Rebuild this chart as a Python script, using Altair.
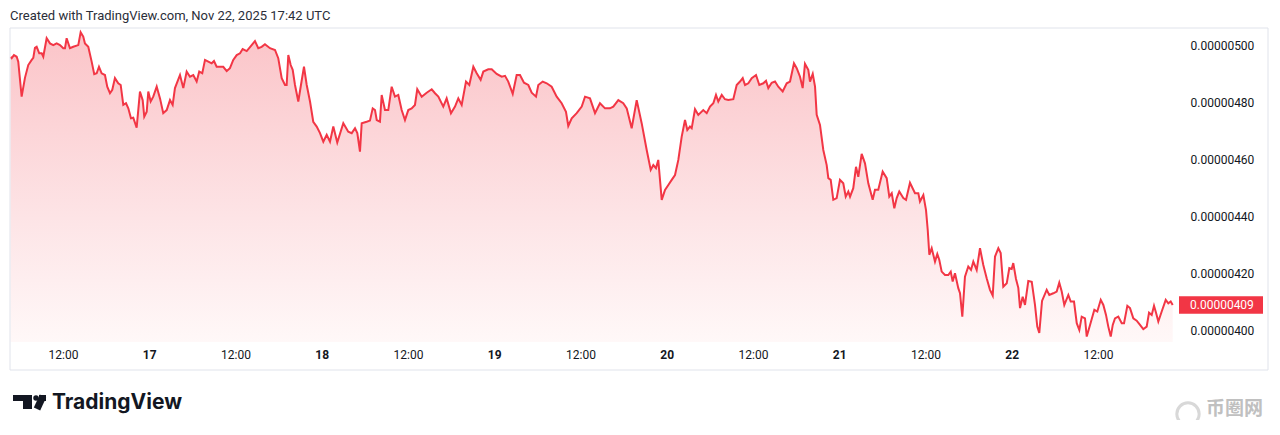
import altair as alt
import pandas as pd

# time in hours since Nov 16 00:00, price in units of 1e-9
hours = [4.70, 4.86, 5.18, 5.56, 5.78, 6.25, 6.71, 7.17, 7.65, 7.87, 8.10, 8.34, 8.70, 9.04, 9.26, 9.73,
         10.19, 10.65, 11.12, 11.58, 12.04, 12.28, 12.51, 12.97, 13.43, 14.13, 14.46, 14.82, 15.06, 15.52,
         15.99, 16.35, 16.69, 17.01, 17.38, 17.84, 18.16, 18.54, 18.86, 19.23, 19.69, 20.03, 20.39, 20.77,
         21.09, 21.46, 21.78, 22.25, 22.71, 23.09, 23.31, 23.65, 23.87, 24.20, 24.56, 25.04, 25.50, 25.95,
         26.43, 26.89, 27.26, 27.58, 28.28, 28.74, 29.21, 29.67, 30.13, 30.60, 30.96, 31.38, 31.76, 32.22,
         32.69, 33.01, 33.38, 33.84, 34.30, 34.78, 35.23, 35.69, 36.17, 36.63, 37.00, 37.56, 38.25, 38.71,
         39.17, 39.64, 40.10, 40.80, 41.50, 41.95, 42.43, 42.89, 43.12, 43.35, 43.68, 43.96, 44.28, 44.74,
         45.11, 45.53, 45.91, 46.37, 46.82, 47.30, 47.76, 48.22, 48.69, 49.15, 49.61, 50.16, 51.00, 51.69,
         52.17, 52.63, 52.95, 53.32, 53.56, 54.25, 54.71, 55.09, 55.41, 55.65, 56.10, 56.34, 56.80, 57.26,
         57.73, 58.19, 58.65, 59.12, 59.58, 60.04, 60.51, 60.97, 61.29, 61.91, 62.60, 63.30, 63.76, 64.22,
         64.91, 65.38, 65.98, 66.54, 67.00, 67.47, 68.07, 68.53, 69.09, 69.56, 70.11, 70.48, 71.17, 71.65,
         72.34, 73.04, 73.50, 73.95, 74.57, 75.12, 75.58, 76.14, 76.74, 77.21, 77.81, 78.13, 78.74, 79.30,
         79.99, 80.69, 81.38, 81.98, 82.30, 82.78, 83.47, 84.17, 84.63, 85.32, 86.02, 86.71, 87.41, 88.10,
         88.56, 89.26, 89.95, 90.43, 91.12, 91.82, 92.51, 93.21, 93.77, 94.13, 94.50, 94.82, 95.30, 95.76,
         96.22, 96.69, 97.15, 97.61, 98.08, 98.54, 98.86, 99.23, 99.47, 99.93, 100.39, 101.08, 101.56,
         102.02, 102.48, 102.85, 103.17, 103.65, 104.10, 104.56, 105.26, 105.73, 106.19, 106.57, 106.89,
         107.35, 107.82, 108.42, 108.88, 109.43, 109.81, 110.13, 110.60, 111.06, 111.52, 112.13, 112.69,
         113.15, 113.70, 114.08, 114.54, 114.91, 115.23, 115.69, 115.93, 116.31, 116.63, 116.86, 117.32,
         117.78, 118.25, 118.48, 118.81, 119.17, 119.64, 120.10, 120.56, 120.90, 121.26, 121.50, 121.95,
         122.33, 122.65, 123.12, 123.58, 124.04, 124.65, 124.97, 125.43, 126.04, 126.60, 126.96, 127.30,
         127.66, 127.99, 128.35, 128.91, 129.29, 129.84, 130.54, 131.00, 131.23, 131.70, 132.07, 132.31,
         132.53, 132.86, 133.32, 133.64, 133.92, 134.25, 134.71, 135.17, 135.51, 135.78, 136.10, 136.56,
         136.80, 137.12, 137.49, 137.95, 138.33, 138.65, 139.12, 139.58, 140.04, 140.51, 140.97, 141.35,
         141.67, 142.13, 142.46, 142.82, 143.30, 143.66, 143.99, 144.21, 144.59, 144.91, 145.15, 145.52,
         145.84, 146.30, 146.78, 147.23, 147.55, 147.83, 148.21, 148.86, 149.22, 149.78, 150.25, 150.61,
         150.95, 151.31, 151.87, 152.20, 152.66, 153.04, 153.40, 153.73, 154.19, 154.43, 154.89, 155.49,
         155.90, 156.38, 156.74, 157.11, 157.43, 157.77, 158.05, 158.36, 158.82, 159.30, 159.62, 160.08,
         160.45, 160.91, 161.38, 161.84, 162.30, 162.77, 163.10, 163.47, 163.79, 164.07, 164.39, 164.86,
         165.42, 165.78, 166.11, 166.39]

price = [496.0, 495.6, 496.7, 496.1, 494.4, 482.1, 488.7, 493.2, 495.0, 495.7, 499.2, 499.6, 497.3, 497.3, 496.1, 502.6,
         500.8, 500.2, 500.8, 500.2, 499.1, 499.1, 502.6, 499.1, 499.6, 500.2, 504.7, 503.2, 500.8, 499.6,
         494.4, 490.0, 490.3, 492.6, 490.3, 489.7, 485.6, 483.3, 484.5, 488.6, 486.8, 486.2, 479.2, 479.8,
         478.0, 474.5, 474.7, 471.2, 483.9, 480.9, 475.1, 476.8, 483.9, 480.4, 482.1, 485.6, 481.5, 476.3,
         477.4, 480.9, 479.2, 485.1, 489.7, 485.1, 490.9, 489.1, 489.7, 487.4, 490.9, 490.3, 495.0, 494.4,
         493.8, 494.6, 492.6, 492.6, 492.6, 491.1, 492.1, 495.0, 496.7, 497.3, 498.8, 498.1, 500.2, 501.6,
         499.1, 499.6, 500.5, 499.1, 498.5, 495.6, 488.6, 486.2, 486.2, 496.7, 493.2, 491.5, 486.2, 480.4,
         486.2, 492.6, 486.2, 480.4, 473.3, 471.6, 469.3, 466.3, 468.7, 466.3, 471.6, 466.0, 472.8, 469.8,
         469.3, 471.0, 469.3, 462.8, 472.8, 473.3, 473.7, 478.0, 477.4, 473.9, 473.3, 482.7, 477.4, 477.4,
         485.6, 482.1, 482.7, 477.4, 473.9, 477.4, 478.0, 479.2, 484.7, 482.1, 483.5, 484.7, 483.3, 482.1,
         478.6, 481.5, 476.3, 478.6, 481.5, 479.2, 487.4, 486.2, 492.6, 490.3, 488.0, 490.9, 491.7, 491.7,
         490.1, 489.1, 489.4, 487.4, 483.1, 489.7, 489.7, 487.0, 486.2, 483.5, 482.1, 486.2, 487.4, 486.8,
         485.6, 482.1, 479.8, 476.8, 471.8, 474.5, 476.3, 478.6, 482.1, 481.5, 476.3, 479.8, 478.0, 478.0,
         478.6, 480.9, 479.8, 478.0, 471.0, 480.9, 472.8, 463.4, 456.4, 458.1, 457.0, 459.9, 445.9, 449.4,
         451.1, 452.9, 454.6, 459.9, 468.1, 473.9, 470.4, 471.6, 471.0, 477.7, 475.7, 477.4, 476.3,
         478.6, 479.8, 482.7, 480.4, 482.7, 481.2, 480.9, 481.2, 486.2, 487.4, 488.6, 486.2,
         486.8, 488.6, 489.7, 486.2, 486.8, 487.7, 485.1, 487.0, 487.4, 485.6, 483.9, 486.8,
         487.4, 493.8, 492.1, 489.1, 485.1, 493.6, 491.5, 487.4, 490.1, 485.6, 475.7, 472.2,
         463.4, 458.1, 453.5, 452.9, 445.9, 446.5, 452.9, 451.7, 447.0, 448.8, 447.0, 450.0,
         457.5, 454.0, 462.0, 458.7, 451.7, 445.9, 449.4, 449.4, 455.8, 453.5, 447.0, 448.2,
         442.9, 446.5, 448.8, 446.5, 445.9, 451.9, 448.2, 448.2, 445.3, 447.6, 442.3, 435.3,
         426.6, 428.9, 424.2, 426.9, 424.8, 420.7, 419.5, 419.5, 420.7, 417.2, 420.1, 414.9,
         413.1, 404.9, 418.9, 422.5, 421.3, 424.2, 421.3, 428.9, 423.0, 418.4, 414.3, 412.3,
         426.0, 428.9, 427.2, 415.4, 416.6, 421.9, 421.6, 423.7, 418.1, 415.0, 407.9, 411.9,
         409.0, 417.4, 417.1, 409.0, 401.4, 399.2, 410.4, 414.3, 412.5, 413.1, 413.7, 416.8,
         413.7, 409.0, 412.5, 410.2, 410.2, 402.6, 400.2, 404.9, 404.3, 397.9, 402.0, 407.3,
         406.7, 410.8, 409.0, 405.5, 401.4, 397.9, 402.0, 404.3, 404.9, 402.6, 402.6, 408.7,
         407.9, 404.3, 403.5, 402.0, 400.5, 401.4, 406.3, 405.5, 408.7, 406.3, 403.2, 406.7,
         410.8, 409.6, 410.2, 409.0]

x_ticks = [12, 24, 36, 48, 60, 72, 84, 96, 108, 120, 132, 144, 156]
y_ticks = [400, 420, 440, 460, 480, 500]
title_text = "Created with TradingView.com, Nov 22, 2025 17:42 UTC"
brand_text = "TradingView"
watermark_text = "币圈网"

df = pd.DataFrame({"h": hours, "p": price})
last = df.iloc[[-1]].reset_index(drop=True)
one = pd.DataFrame({"k": [0]})

W, H = 1165, 314
RED = "#F23645"
FONT = "Roboto"
Y_MIN, Y_MAX = 396.0, 506.2

xscale = alt.Scale(domain=[4.63, 166.71], nice=False, zero=False)
yscale = alt.Scale(domain=[Y_MIN, Y_MAX], nice=False, zero=False)

xaxis = alt.Axis(
    values=x_ticks,
    labelExpr="datum.value % 24 == 0 ? toString(16 + datum.value / 24) : '12:00'",
    labelFontWeight={"condition": {"test": "datum.value % 24 == 0", "value": "bold"}, "value": "normal"},
    grid=False, ticks=False, tickSize=0, domain=False, title=None,
    labelFont=FONT, labelFontSize=12, labelColor="#131722", labelPadding=7,
    labelFlush=False, labelOverlap=False,
)
yaxis = alt.Axis(
    orient="right", values=y_ticks,
    labelExpr="'0.00000' + datum.value",
    grid=False, ticks=False, tickSize=0, domain=False, title=None,
    labelFont=FONT, labelFontSize=12, labelColor="#131722", labelPadding=15,
    labelAlign="left", labelOverlap=False,
)

grad = alt.Gradient(
    gradient="linear",
    stops=[alt.GradientStop(color="#fbc4c8", offset=0),
           alt.GradientStop(color="#fde4e6", offset=0.6),
           alt.GradientStop(color="#fff8f8", offset=1)],
    x1=1, x2=1, y1=0, y2=1,
)

area = alt.Chart(df).mark_area(color=grad).encode(
    x=alt.X("h:Q", scale=xscale, axis=xaxis),
    y=alt.Y("p:Q", scale=yscale, axis=yaxis),
    y2=alt.datum(Y_MIN),
)
line = alt.Chart(df).mark_line(color=RED, strokeWidth=2).encode(
    x=alt.X("h:Q", scale=xscale, axis=xaxis),
    y=alt.Y("p:Q", scale=yscale, axis=yaxis),
)

tag_rect = alt.Chart(last).transform_calculate(
    lo="datum.p - 3.05", hi="datum.p + 3.05"
).mark_rect(color=RED, clip=False).encode(
    x=alt.value(1169), x2=alt.value(1253),
    y=alt.Y("lo:Q", scale=yscale, axis=yaxis), y2="hi:Q",
)
tag_text = alt.Chart(last).transform_calculate(
    lbl="'0.00000' + format(datum.p, 'd')"
).mark_text(align="left", baseline="middle", color="white", font=FONT, fontSize=12, clip=False).encode(
    x=alt.value(1180), y=alt.Y("p:Q", scale=yscale, axis=yaxis), text="lbl:N",
)

frame = alt.Chart(one).mark_rect(filled=False, stroke="#e0e3eb", strokeWidth=1, clip=False).encode(
    x=alt.value(0), x2=alt.value(1258), y=alt.value(0), y2=alt.value(342),
)

title = alt.Chart(one).mark_text(align="left", baseline="middle", font=FONT, fontSize=13,
                                 color="#2a2e39", clip=False).encode(
    x=alt.value(0), y=alt.value(-12), text=alt.value(title_text))

brand = alt.Chart(one).mark_text(align="left", baseline="alphabetic", font="Inter", fontSize=21,
                                 fontWeight="bold", color="#131722", clip=False).encode(
    x=alt.value(42), y=alt.value(381), text=alt.value(brand_text))

logo_bar = alt.Chart(one).mark_rect(color="#131722", clip=False).encode(
    x=alt.value(3), x2=alt.value(22), y=alt.value(367), y2=alt.value(373))
logo_stem = alt.Chart(one).mark_rect(color="#131722", clip=False).encode(
    x=alt.value(13), x2=alt.value(22), y=alt.value(367), y2=alt.value(381))
logo_dot = alt.Chart(one).mark_circle(color="#131722", opacity=1, size=30, clip=False).encode(
    x=alt.value(26), y=alt.value(370))
logo_top = alt.Chart(one).mark_rect(color="#131722", clip=False).encode(
    x=alt.value(29), x2=alt.value(36), y=alt.value(367), y2=alt.value(373))
logo_slant = alt.Chart(one).mark_rule(color="#131722", strokeWidth=7, clip=False).encode(
    x=alt.value(33), x2=alt.value(27), y=alt.value(368), y2=alt.value(381))

wm_ring = alt.Chart(one).mark_point(shape="circle", filled=False, color="#c8c8c8", strokeWidth=3,
                                    size=500, clip=False).encode(x=alt.value(1178), y=alt.value(386))
wm_text = alt.Chart(one).mark_text(align="left", baseline="middle", font="Noto Sans CJK SC", fontSize=19,
                                   fontWeight="bold", color="#c0c0c0", clip=False).encode(
    x=alt.value(1196), y=alt.value(381), text=alt.value(watermark_text))

chart = alt.layer(
    area, line, tag_rect, tag_text, frame, title, brand,
    logo_bar, logo_stem, logo_dot, logo_top, logo_slant, wm_ring, wm_text,
).properties(
    width=W, height=H,
    padding={"left": 2, "top": 20, "right": 97, "bottom": 78},
    autosize=alt.AutoSizeParams(type="none"),
).configure_view(strokeWidth=0)

chart.save("out.html", embed_options={"renderer": "svg", "actions": False})
